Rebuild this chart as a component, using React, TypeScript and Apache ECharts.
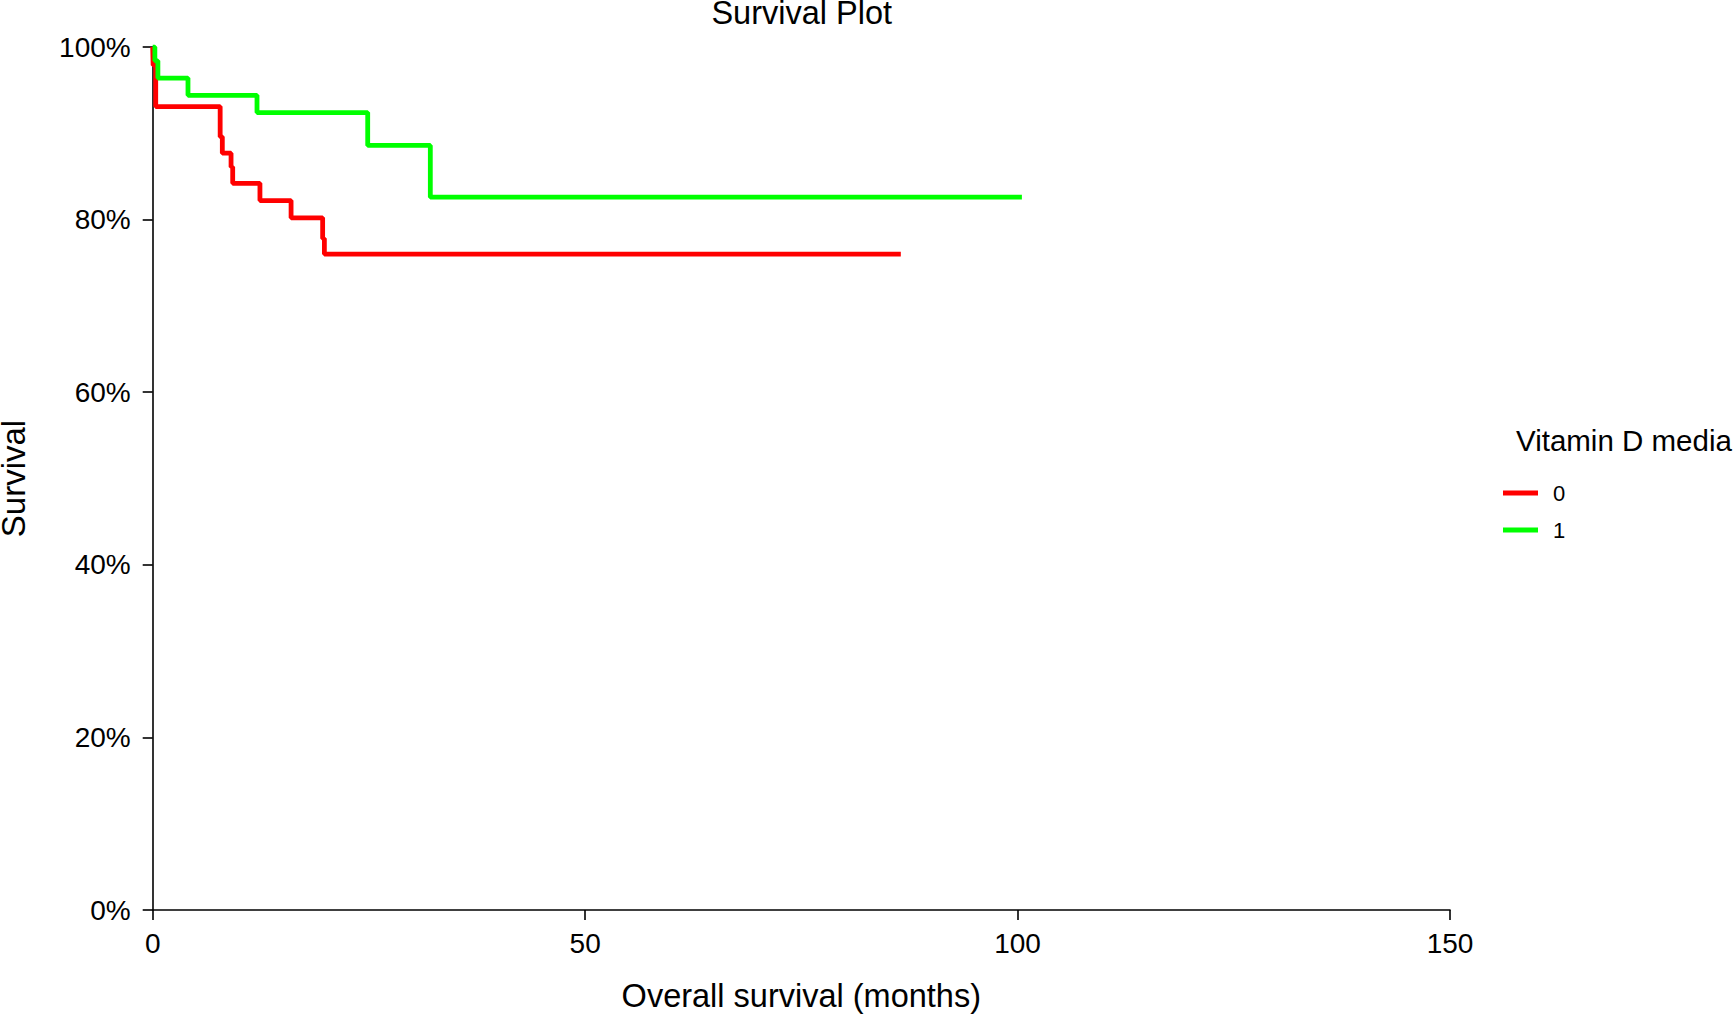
import React, { useEffect, useRef } from "react";
import * as echarts from "echarts";

const groupNames = ["0", "1"];
const groupColors = ["#FF0000", "#00FF00"];

// Group "0" (red) Kaplan-Meier steps: time (months) and survival after that time
const redTime = [0, 0.05, 0.35, 7.8, 8.05, 9.06, 9.25, 12.4, 16.0, 19.65, 19.85, 86.5];
const redSurv = [1.0, 0.979, 0.931, 0.896, 0.877, 0.861, 0.842, 0.822, 0.802, 0.778, 0.76, 0.76];

// Group "1" (green)
const greenTime = [0, 0.25, 0.6, 4.08, 12.06, 24.86, 32.1, 100.5];
const greenSurv = [1.0, 0.984, 0.964, 0.944, 0.924, 0.886, 0.826, 0.826];

const xTickValues = [0, 50, 100, 150];
const yTickValues = [0, 0.2, 0.4, 0.6, 0.8, 1.0];

const titleText = "Survival Plot";
const xAxisTitle = "Overall survival (months)";
const yAxisTitle = "Survival";
const legendTitle = "Vitamin D media";

const FONT = "'Liberation Sans', Arial, Helvetica, sans-serif";

export default function App() {
  const ref = useRef<HTMLDivElement>(null);

  useEffect(() => {
    document.body.style.margin = "0";
    const chart = echarts.init(ref.current as HTMLDivElement, null, { renderer: "svg" });
    const toPairs = (ts: number[], ss: number[]) => ts.map((t, i) => [t, ss[i]]);

    chart.setOption({
      animation: false,
      textStyle: { fontFamily: FONT },
      grid: { left: 152.7, top: 47, right: 283, bottom: 104, containLabel: false },
      xAxis: {
        type: "value",
        min: xTickValues[0],
        max: xTickValues[xTickValues.length - 1],
        interval: 50,
        axisLine: { show: true, onZero: false, lineStyle: { color: "#000", width: 1.6 } },
        axisTick: { show: true, length: 10, lineStyle: { color: "#000", width: 1.6 } },
        axisLabel: { fontSize: 28, color: "#000", margin: 19, fontFamily: FONT },
        splitLine: { show: false },
      },
      yAxis: {
        type: "value",
        min: yTickValues[0],
        max: yTickValues[yTickValues.length - 1],
        interval: 0.2,
        axisLine: { show: true, onZero: false, lineStyle: { color: "#000", width: 1.6 } },
        axisTick: { show: true, length: 10, lineStyle: { color: "#000", width: 1.6 } },
        axisLabel: {
          fontSize: 28,
          color: "#000",
          margin: 22,
          fontFamily: FONT,
          formatter: (v: number) => Math.round(v * 100) + "%",
        },
        splitLine: { show: false },
      },
      legend: {
        show: true,
        orient: "vertical",
        left: 1503,
        top: 482,
        padding: 0,
        itemWidth: 35,
        itemHeight: 5,
        itemGap: 15,
        icon: "rect",
        selectedMode: false,
        textStyle: { fontSize: 22, lineHeight: 22, color: "#000", fontFamily: FONT, padding: [0, 0, 0, 10] },
        data: groupNames,
      },
      graphic: [
        {
          type: "text",
          x: 801.7,
          y: 13,
          style: { text: titleText, fontSize: 32.5, fill: "#000", align: "center", verticalAlign: "middle", fontFamily: FONT },
        },
        {
          type: "text",
          x: 801.3,
          y: 996,
          style: { text: xAxisTitle, fontSize: 32.5, fill: "#000", align: "center", verticalAlign: "middle", fontFamily: FONT },
        },
        {
          type: "text",
          x: 13.5,
          y: 478.5,
          rotation: Math.PI / 2,
          style: { text: yAxisTitle, fontSize: 33, fill: "#000", align: "center", verticalAlign: "middle", fontFamily: FONT },
        },
        {
          type: "text",
          x: 1516,
          y: 440,
          style: { text: legendTitle, fontSize: 29.5, fill: "#000", align: "left", verticalAlign: "middle", fontFamily: FONT },
        },
      ],
      series: [
        {
          name: groupNames[0],
          type: "line",
          step: "end",
          symbol: "none",
          color: groupColors[0],
          lineStyle: { color: groupColors[0], width: 4.8 },
          data: toPairs(redTime, redSurv),
          z: 2,
        },
        {
          name: groupNames[1],
          type: "line",
          step: "end",
          symbol: "none",
          color: groupColors[1],
          lineStyle: { color: groupColors[1], width: 4.8 },
          data: toPairs(greenTime, greenSurv),
          z: 3,
        },
      ],
    });
    return () => chart.dispose();
  }, []);

  return <div ref={ref} style={{ width: 1733, height: 1014 }} />;
}
